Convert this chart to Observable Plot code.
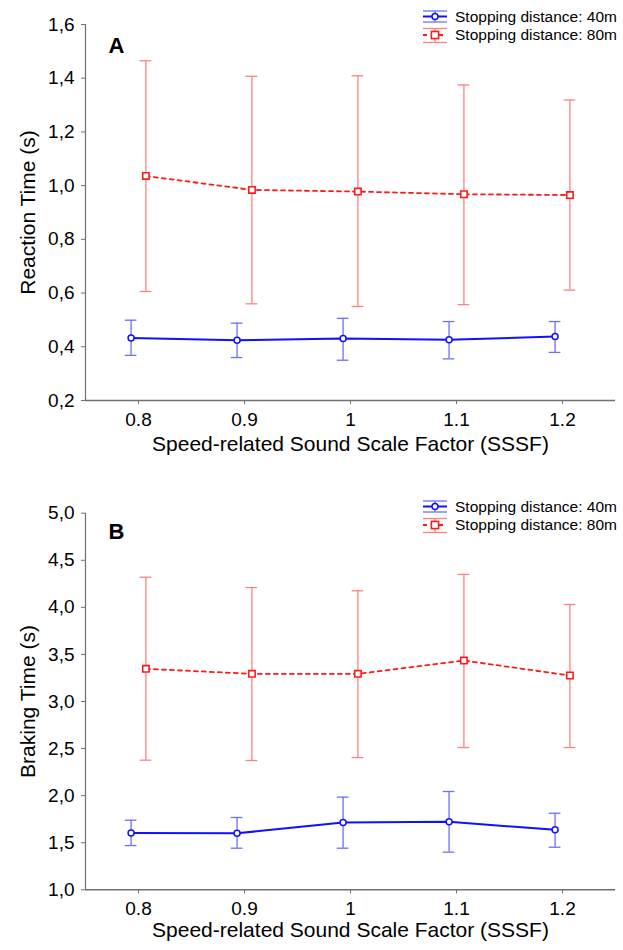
<!DOCTYPE html>
<html>
<head>
<meta charset="utf-8">
<script src="https://cdn.jsdelivr.net/npm/d3@7"></script>
<script src="https://cdn.jsdelivr.net/npm/@observablehq/plot@0.6"></script>
<style>
  html, body { margin: 0; padding: 0; background: #fff; }
  body { width: 623px; font-family: "Liberation Sans", Arial, sans-serif; }
  .panel { position: relative; width: 623px; }
  .legend { position: absolute; left: 423px; font-size: 15.5px; color: #000; }
  .legend svg { position: absolute; left: 0; top: 0; }
  .legend .row { position: absolute; left: 32px; white-space: nowrap; line-height: 18px; }
</style>
</head>
<body>
<div id="panelA" class="panel"></div>
<div id="panelB" class="panel"></div>
<script>
// ---- data ----
const sssf = [0.8, 0.9, 1.0, 1.1, 1.2];
const xTickLabels = ["0.8", "0.9", "1", "1.1", "1.2"];
const seriesNames = ["Stopping distance: 40m", "Stopping distance: 80m"];
const xAxisLabel = "Speed-related Sound Scale Factor (SSSF)";

// Panel A: Reaction Time (s)
const rt40Mean  = [0.433, 0.424, 0.431, 0.426, 0.438];
const rt40Upper = [0.499, 0.488, 0.506, 0.494, 0.494];
const rt40Lower = [0.368, 0.360, 0.350, 0.355, 0.379];
const rt80Mean  = [1.036, 0.984, 0.978, 0.968, 0.965];
const rt80Upper = [1.465, 1.407, 1.409, 1.375, 1.319];
const rt80Lower = [0.606, 0.560, 0.550, 0.557, 0.611];
const rtTicks = [0.2, 0.4, 0.6, 0.8, 1.0, 1.2, 1.4, 1.6];

// Panel B: Braking Time (s)
const bt40Mean  = [1.602, 1.600, 1.715, 1.722, 1.637];
const bt40Upper = [1.739, 1.768, 1.984, 2.044, 1.813];
const bt40Lower = [1.470, 1.442, 1.442, 1.400, 1.452];
const bt80Mean  = [3.347, 3.294, 3.294, 3.435, 3.276];
const bt80Upper = [4.320, 4.210, 4.176, 4.350, 4.030];
const bt80Lower = [2.377, 2.373, 2.405, 2.511, 2.511];
const btTicks = [1.0, 1.5, 2.0, 2.5, 3.0, 3.5, 4.0, 4.5, 5.0];

// ---- styles ----
const BLUE = "#1010ff", BLUE_ERR = "#6e6eff";
const RED = "#ff1a1a", RED_ERR = "#ff8080";
const AXIS = "#707070";
const xOffset = 0.007;   // horizontal dodge between the two series
const capHalf = 0.0055;  // half width of error bar caps (x units)

function rows(means, uppers, lowers, off) {
  return sssf.map((x, i) => ({x: x + off, mean: means[i], hi: uppers[i], lo: lowers[i]}));
}

function drawPanel(el, cfg) {
  const s40 = rows(cfg.m40, cfg.u40, cfg.l40, -xOffset);
  const s80 = rows(cfg.m80, cfg.u80, cfg.l80, xOffset);
  const yMin = cfg.yTicks[0], yMax = cfg.yTicks[cfg.yTicks.length - 1];
  const fmtY = d => d.toFixed(1).replace(".", ",");
  const chart = Plot.plot({
    width: 623,
    height: cfg.height,
    marginLeft: 85,
    marginRight: 8,
    marginTop: cfg.marginTop,
    marginBottom: cfg.marginBottom,
    style: {fontFamily: '"Liberation Sans", Arial, sans-serif', background: "#fff", color: "#000"},
    x: {domain: [0.75, 1.25]},
    y: {domain: [yMin, yMax]},
    marks: [
      Plot.axisX({ticks: sssf, tickFormat: (d, i) => xTickLabels[i], tickSize: 4, tickPadding: 8,
        fontSize: 19, stroke: AXIS, label: null}),
      Plot.axisY({ticks: cfg.yTicks, tickFormat: fmtY, tickSize: 4, tickPadding: 7,
        fontSize: 19, stroke: AXIS, label: null}),
      Plot.text([xAxisLabel], {frameAnchor: "bottom", dy: cfg.xLabelOffset, fontSize: 21, fill: "#000"}),
      Plot.text([cfg.yLabel], {frameAnchor: "left", dx: -57, rotate: -90, textAnchor: "middle",
        fontSize: 21, fill: "#000"}),
      Plot.ruleX([0.75], {y1: yMin, y2: yMax, stroke: AXIS, strokeWidth: 1.2}),
      Plot.ruleY([yMin], {stroke: AXIS, strokeWidth: 1.5}),
      // error bars 80m
      Plot.ruleX(s80, {x: "x", y1: "lo", y2: "hi", stroke: RED_ERR, strokeWidth: 1.3}),
      Plot.ruleY(s80, {y: "hi", x1: d => d.x - capHalf, x2: d => d.x + capHalf, stroke: RED_ERR, strokeWidth: 1.3}),
      Plot.ruleY(s80, {y: "lo", x1: d => d.x - capHalf, x2: d => d.x + capHalf, stroke: RED_ERR, strokeWidth: 1.3}),
      // error bars 40m
      Plot.ruleX(s40, {x: "x", y1: "lo", y2: "hi", stroke: BLUE_ERR, strokeWidth: 1.3}),
      Plot.ruleY(s40, {y: "hi", x1: d => d.x - capHalf, x2: d => d.x + capHalf, stroke: BLUE_ERR, strokeWidth: 1.3}),
      Plot.ruleY(s40, {y: "lo", x1: d => d.x - capHalf, x2: d => d.x + capHalf, stroke: BLUE_ERR, strokeWidth: 1.3}),
      // mean lines
      Plot.line(s80, {x: "x", y: "mean", stroke: RED, strokeWidth: 1.8, strokeDasharray: "4,4"}),
      Plot.line(s40, {x: "x", y: "mean", stroke: BLUE, strokeWidth: 2}),
      Plot.dot(s80, {x: "x", y: "mean", symbol: "square", r: 3.6, fill: "#fff", stroke: RED, strokeWidth: 1.6}),
      Plot.dot(s40, {x: "x", y: "mean", r: 3, fill: "#fff", stroke: BLUE, strokeWidth: 1.5}),
      // panel letter
      Plot.text([cfg.letter], {frameAnchor: "top-left", dx: 23, dy: cfg.letterDy, fontSize: 22,
        fontWeight: "bold", textAnchor: "start", fill: "#000"})
    ]
  });
  el.appendChild(chart);

  // legend
  const lg = document.createElement("div");
  lg.className = "legend";
  lg.style.top = cfg.legendTop + "px";
  lg.innerHTML = `
    <svg width="30" height="42" viewBox="0 0 30 42">
      <line x1="0" x2="24" y1="6" y2="6" stroke="${BLUE_ERR}" stroke-width="1.3"/>
      <line x1="0" x2="24" y1="17" y2="17" stroke="${BLUE_ERR}" stroke-width="1.3"/>
      <line x1="12" x2="12" y1="6" y2="17" stroke="${BLUE_ERR}" stroke-width="1.3"/>
      <line x1="0" x2="24" y1="11.5" y2="11.5" stroke="${BLUE}" stroke-width="2"/>
      <circle cx="12" cy="11.5" r="3" fill="#fff" stroke="${BLUE}" stroke-width="1.5"/>
      <line x1="0" x2="24" y1="23.5" y2="23.5" stroke="${RED_ERR}" stroke-width="1.3"/>
      <line x1="0" x2="24" y1="37.5" y2="37.5" stroke="${RED_ERR}" stroke-width="1.3"/>
      <line x1="12" x2="12" y1="23.5" y2="37.5" stroke="${RED_ERR}" stroke-width="1.3"/>
      <line x1="0" x2="24" y1="30" y2="30" stroke="${RED}" stroke-width="1.8" stroke-dasharray="4,4"/>
      <rect x="8.4" y="26.4" width="7.2" height="7.2" fill="#fff" stroke="${RED}" stroke-width="1.6"/>
    </svg>
    <div class="row" style="top:2.5px">${seriesNames[0]}</div>
    <div class="row" style="top:21px">${seriesNames[1]}</div>`;
  el.appendChild(lg);
}

drawPanel(document.getElementById("panelA"), {
  height: 470, marginTop: 24, marginBottom: 70, xLabelOffset: 50,
  yTicks: rtTicks, yLabel: "Reaction Time (s)", letter: "A", letterDy: 13, legendTop: 5,
  m40: rt40Mean, u40: rt40Upper, l40: rt40Lower, m80: rt80Mean, u80: rt80Upper, l80: rt80Lower
});
drawPanel(document.getElementById("panelB"), {
  height: 480, marginTop: 42.7, marginBottom: 60.7, xLabelOffset: 47,
  yTicks: btTicks, yLabel: "Braking Time (s)", letter: "B", letterDy: 10, legendTop: 25,
  m40: bt40Mean, u40: bt40Upper, l40: bt40Lower, m80: bt80Mean, u80: bt80Upper, l80: bt80Lower
});
</script>
</body>
</html>
